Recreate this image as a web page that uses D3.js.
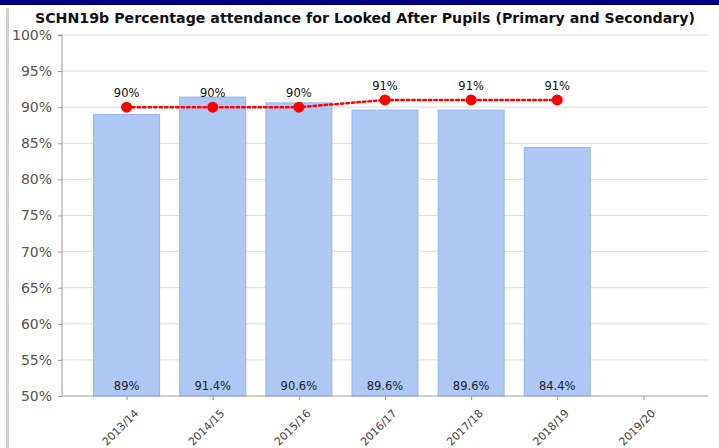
<!DOCTYPE html>
<html><head><meta charset="utf-8">
<script src="https://cdn.jsdelivr.net/npm/d3@7"></script>
<style>
html,body{margin:0;padding:0;background:#fff;}
svg{display:block;}
</style></head>
<body>
<svg id="c" width="719" height="448"></svg>
<script>
const title = "SCHN19b Percentage attendance for Looked After Pupils (Primary and Secondary)";
const categories = ["2013/14","2014/15","2015/16","2016/17","2017/18","2018/19","2019/20"];
const barValues = [89, 91.4, 90.6, 89.6, 89.6, 84.4];
const barLabels = ["89%","91.4%","90.6%","89.6%","89.6%","84.4%"];
const lineValues = [90, 90, 90, 91, 91, 91];
const lineLabels = ["90%","90%","90%","91%","91%","91%"];
const yTicks = [50,55,60,65,70,75,80,85,90,95,100];

const svg = d3.select("#c");
const m = {left:62, right:708, top:35, bottom:396};
const FF = "DejaVu Sans, Verdana, sans-serif";

// frame decorations
svg.append("rect").attr("x",0).attr("y",0).attr("width",719).attr("height",5).attr("fill","#000080");
svg.append("rect").attr("x",6).attr("y",8).attr("width",3).attr("height",440).attr("fill","#d0d0d0");

svg.append("text").attr("x",365).attr("y",23).attr("text-anchor","middle")
  .attr("font-family",FF).attr("font-weight","bold")
  .attr("font-size","14.2px").attr("fill","#111").text(title);

const x = d3.scalePoint().domain(categories).range([m.left, m.right]).padding(0.75);
const y = d3.scaleLinear().domain([50,100]).range([m.bottom, m.top]);
const bw = 66;

// gridlines
svg.append("g").selectAll("line").data(yTicks.filter(d=>d>50)).join("line")
  .attr("x1",m.left).attr("x2",m.right).attr("y1",d=>y(d)).attr("y2",d=>y(d))
  .attr("stroke","#dcdcdc").attr("stroke-width",1);

// bars
svg.append("g").selectAll("rect").data(barValues).join("rect")
  .attr("x",(d,i)=>x(categories[i])-bw/2).attr("width",bw)
  .attr("y",d=>y(d)).attr("height",d=>y(50)-y(d))
  .attr("fill","#aec7f4").attr("stroke","#94b4ef").attr("stroke-width",1);

// bar labels
svg.append("g").selectAll("text").data(barLabels).join("text")
  .attr("x",(d,i)=>x(categories[i])).attr("y",y(50)-6).attr("text-anchor","middle")
  .attr("font-family",FF).attr("font-size","11.5px").attr("fill","#222")
  .text(d=>d);

// y axis
const yAxis = d3.axisLeft(y).tickValues(yTicks).tickFormat(d=>d+"%").tickSize(4).tickPadding(6);
const gy = svg.append("g").attr("transform",`translate(${m.left},0)`).call(yAxis);
gy.select(".domain").attr("stroke","#999").attr("d",`M-4,${m.top}H0V${m.bottom}`);
gy.selectAll(".tick line").attr("stroke","#999");
gy.selectAll(".tick text").attr("font-family",FF).attr("font-size","14px").attr("fill","#555");

// x axis
const xAxis = d3.axisBottom(x).tickSize(4).tickPadding(4);
const gx = svg.append("g").attr("transform",`translate(0,${m.bottom})`).call(xAxis);
gx.select(".domain").attr("stroke","#999").attr("d",`M${m.left},0H${m.right}`);
gx.selectAll(".tick line").attr("stroke","#999");
gx.selectAll(".tick text").attr("font-family",FF).attr("font-size","11px").attr("fill","#444")
  .attr("text-anchor","end").attr("dy","0.3em").attr("transform","translate(4,10) rotate(-45)");

// line
const line = d3.line().x((d,i)=>x(categories[i])).y(d=>y(d));
svg.append("path").datum(lineValues).attr("d",line).attr("fill","none")
  .attr("stroke","#ff0000").attr("stroke-width",2.5).attr("stroke-dasharray","2.5,3").attr("stroke-linecap","round");
svg.append("g").selectAll("circle").data(lineValues).join("circle")
  .attr("cx",(d,i)=>x(categories[i])).attr("cy",d=>y(d)).attr("r",5.5).attr("fill","#ff0000");
svg.append("g").selectAll("text").data(lineLabels).join("text")
  .attr("x",(d,i)=>x(categories[i])).attr("y",(d,i)=>y(lineValues[i])-10).attr("text-anchor","middle")
  .attr("font-family",FF).attr("font-size","11.5px").attr("fill","#111")
  .text(d=>d);
</script>
</body></html>
